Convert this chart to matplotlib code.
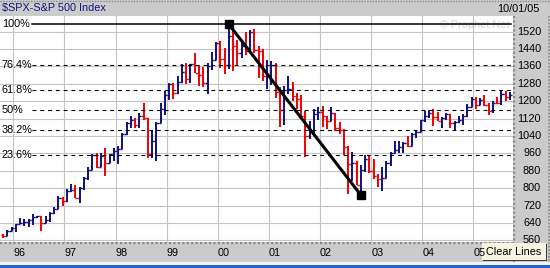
import matplotlib
matplotlib.use("Agg")
import numpy as np
import matplotlib.pyplot as plt
from matplotlib.patches import Rectangle

plt.rcParams['font.family'] = ['Liberation Sans', 'DejaVu Sans']

"""Data: monthly S&P 500 bars, Oct 1995 - Sep 2005"""

first_offset = -3   # Oct 1995, counted in months from Jan 1996

opens = [584.41, 581.50, 605.37,
         615.93, 636.02, 640.43, 645.50, 654.17, 669.12, 670.63, 639.95, 651.99, 687.31, 705.27, 757.02,
         740.74, 786.16, 790.82, 757.12, 801.34, 848.28, 885.14, 954.29, 899.47, 947.28, 914.62, 955.40,
         970.43, 980.28, 1049.34, 1101.75, 1111.75, 1090.82, 1133.84, 1120.67, 957.28, 1017.01, 1098.67, 1163.63,
         1229.23, 1279.64, 1238.33, 1286.37, 1335.18, 1301.84, 1372.71, 1328.72, 1320.41, 1282.71, 1362.93, 1388.91,
         1469.25, 1394.46, 1366.42, 1498.58, 1452.43, 1420.60, 1454.60, 1430.83, 1517.68, 1436.51, 1429.40, 1314.95,
         1320.28, 1366.01, 1239.94, 1160.33, 1249.46, 1255.82, 1224.42, 1211.23, 1133.58, 1040.94, 1059.78, 1139.45,
         1148.08, 1130.20, 1106.73, 1147.39, 1076.92, 1067.14, 989.82, 911.62, 916.07, 815.28, 885.76, 936.31,
         879.82, 855.70, 841.15, 848.18, 916.92, 963.59, 974.50, 990.31, 1008.01, 995.97, 1050.71, 1058.20,
         1111.92, 1131.13, 1144.94, 1126.21, 1107.30, 1120.68, 1140.84, 1101.72, 1104.24, 1114.58, 1130.20, 1173.82,
         1211.92, 1181.27, 1203.60, 1180.59, 1156.85, 1191.50, 1191.33, 1234.18, 1220.33]
highs = [587.75, 608.69, 622.88,
         636.18, 664.23, 656.97, 656.68, 681.10, 673.31, 672.61, 670.68, 690.88, 714.10, 762.12, 761.75,
         794.67, 817.68, 814.90, 804.13, 851.87, 898.70, 957.73, 961.62, 960.46, 983.12, 959.13, 986.25,
         992.65, 1051.66, 1105.65, 1130.52, 1123.85, 1145.15, 1190.58, 1121.01, 1066.11, 1103.78, 1192.97, 1244.93,
         1283.49, 1283.75, 1316.55, 1371.56, 1375.98, 1372.93, 1420.33, 1361.23, 1357.74, 1373.17, 1427.39, 1473.53,
         1478.00, 1444.55, 1552.87, 1527.19, 1481.51, 1474.63, 1517.32, 1525.21, 1530.09, 1454.82, 1438.46, 1389.06,
         1383.37, 1376.38, 1263.47, 1269.30, 1315.93, 1286.62, 1239.78, 1226.27, 1155.40, 1110.61, 1163.38, 1173.62,
         1176.55, 1130.20, 1173.03, 1147.84, 1106.59, 1070.74, 994.46, 965.00, 924.02, 907.44, 951.57, 954.28,
         935.05, 864.64, 895.90, 924.24, 965.38, 1015.33, 1015.41, 1011.01, 1040.29, 1053.79, 1063.65, 1112.56,
         1155.38, 1158.98, 1163.23, 1150.57, 1127.74, 1146.34, 1140.84, 1108.60, 1131.54, 1142.05, 1188.46, 1217.33,
         1217.80, 1212.44, 1229.11, 1191.88, 1199.56, 1219.59, 1245.15, 1245.86, 1243.13]
lows = [572.68, 580.35, 605.05,
        597.29, 633.71, 627.63, 624.14, 630.07, 662.10, 605.88, 639.49, 643.97, 684.00, 703.77, 716.69,
        737.01, 783.32, 756.13, 733.54, 793.21, 836.36, 882.11, 893.38, 898.40, 855.27, 914.96, 926.42,
        912.83, 980.28, 1046.41, 1076.70, 1074.67, 1074.62, 1114.30, 939.98, 939.71, 923.32, 1098.67, 1136.89,
        1205.46, 1211.89, 1234.27, 1282.56, 1277.31, 1281.44, 1328.72, 1268.37, 1263.47, 1233.70, 1341.22, 1387.38,
        1350.14, 1325.07, 1346.62, 1339.40, 1361.09, 1398.10, 1413.89, 1421.64, 1419.44, 1305.79, 1294.90, 1254.07,
        1274.62, 1215.44, 1081.19, 1091.99, 1232.00, 1203.03, 1165.54, 1124.87, 944.75, 1026.76, 1054.31, 1114.53,
        1081.66, 1074.36, 1106.73, 1063.46, 1048.96, 952.92, 775.68, 833.44, 815.28, 768.63, 872.57, 871.84,
        840.34, 806.29, 788.90, 847.85, 902.83, 963.59, 962.10, 960.84, 990.36, 995.97, 1031.20, 1058.20,
        1105.08, 1124.44, 1087.16, 1107.23, 1076.32, 1113.32, 1078.78, 1060.72, 1101.29, 1090.19, 1127.60, 1173.76,
        1163.75, 1180.95, 1176.92, 1136.15, 1146.18, 1188.30, 1183.55, 1201.07, 1205.35]
closes = [581.50, 605.37, 615.93,
          636.02, 640.43, 645.50, 654.17, 669.12, 670.63, 639.95, 651.99, 687.31, 705.27, 757.02, 740.74,
          786.16, 790.82, 757.12, 801.34, 848.28, 885.14, 954.29, 899.47, 947.28, 914.62, 955.40, 970.43,
          980.28, 1049.34, 1101.75, 1111.75, 1090.82, 1133.84, 1120.67, 957.28, 1017.01, 1098.67, 1163.63, 1229.23,
          1279.64, 1238.33, 1286.37, 1335.18, 1301.84, 1372.71, 1328.72, 1320.41, 1282.71, 1362.93, 1388.91, 1469.25,
          1394.46, 1366.42, 1498.58, 1452.43, 1420.60, 1454.60, 1430.83, 1517.68, 1436.51, 1429.40, 1314.95, 1320.28,
          1366.01, 1239.94, 1160.33, 1249.46, 1255.82, 1224.42, 1211.23, 1133.58, 1040.94, 1059.78, 1139.45, 1148.08,
          1130.20, 1106.73, 1147.39, 1076.92, 1067.14, 989.82, 911.62, 916.07, 815.28, 885.76, 936.31, 879.82,
          855.70, 841.15, 848.18, 916.92, 963.59, 974.50, 990.31, 1008.01, 995.97, 1050.71, 1058.20, 1111.92,
          1131.13, 1144.94, 1126.21, 1107.30, 1120.68, 1140.84, 1101.72, 1104.24, 1114.58, 1130.20, 1173.82, 1211.92,
          1181.27, 1203.60, 1180.59, 1156.85, 1191.50, 1191.33, 1234.18, 1220.33, 1228.81]

year_labels = ['96', '97', '98', '99', '00', '01', '02', '03', '04', '05']
price_ticks = [560, 640, 720, 800, 880, 960, 1040, 1120, 1200, 1280, 1360, 1440, 1520]
fib_ratios = [1.0, 0.764, 0.618, 0.5, 0.382, 0.236]
fib_labels = ['100%', '76.4%', '61.8%', '50%', '38.2%', '23.6%']
title = r'\$SPX-S&P 500 Index'
date_label = '10/01/05'

NAVY = '#101078'
RED = '#f00000'
GRAY = '#cbcbcb'
FS = 7.8

"""Figure and frame"""

W, H = 550, 268
fig = plt.figure(figsize=(W / 100, H / 100), dpi=100)
fig.patch.set_facecolor(GRAY)

bg = fig.add_axes([0, 0, 1, 1])
bg.set_xlim(0, W)
bg.set_ylim(H, 0)
bg.axis('off')

# bottom white + blue stripe
bg.add_patch(Rectangle((0, 262), W, 3, color='#f4f4f4', lw=0))
bg.add_patch(Rectangle((0, 264.5), W, 4, color='#1f62d6', lw=0))
# dotted borders
bg.plot([0, W], [0.7, 0.7], color='#8a8a8a', lw=1, ls=(0, (1, 1)))
bg.plot([514, 514], [16, 262], color='#8a8a8a', lw=1.6, ls=(0, (1, 1)))
bg.plot([0, 514], [243, 243], color='#8a8a8a', lw=1.6, ls=(0, (1, 1)))
bg.plot([548.5, 548.5], [16, 262], color='#8a8a8a', lw=1.2, ls=(0, (1, 1)))

# header texts
bg.text(2, 8.5, title, color='#14147a', fontsize=FS, ha='left', va='center')
bg.text(540, 8.5, date_label, color='black', fontsize=FS, ha='right', va='center')

# Clear Lines button
bg.add_patch(Rectangle((483, 244), 64, 17, facecolor='#3c3c3c', lw=0, zorder=5))
bg.add_patch(Rectangle((482, 243), 64, 17, facecolor='#f8f4e2', lw=0, zorder=6))
bg.text(514, 252, 'Clear Lines', fontsize=FS, ha='center', va='center', zorder=7)

"""Price axes"""

left_px, right_px, top_px, bot_px = 0, 513, 16, 242
ax = fig.add_axes([left_px / W, (H - bot_px) / H, (right_px - left_px) / W, (bot_px - top_px) / H])
ax.set_facecolor('white')
ax.set_xlim(-3.71, 116.71)
ax.set_ylim(553.1, 1591.2)
for s in ax.spines.values():
    s.set_visible(False)
ax.set_xticks([])
ax.set_yticks([])

# grid
year_pos = [12 * i - 0.59 for i in range(len(year_labels))]
for y in price_ticks:
    ax.axhline(y, color='#c4c4c4', lw=0.8, zorder=1)
for x in year_pos:
    ax.axvline(x, color='#c4c4c4', lw=0.8, zorder=1)

# OHLC bars
o = np.array(opens)
h = np.array(highs)
l = np.array(lows)
c = np.array(closes)
k = np.arange(len(c)) + first_offset
cols = [NAVY if cc >= oo else RED for oo, cc in zip(o, c)]
ax.vlines(k, l, h, colors=cols, lw=1.4, zorder=3)
ax.hlines(o, k - 0.5, k, colors=cols, lw=1.0, zorder=3)
ax.hlines(c, k, k + 0.5, colors=cols, lw=1.0, zorder=3)

# Fibonacci retracement: from the top down to the lowest low after it
hi_i = int(np.argmax(h))
lo_i = hi_i + int(np.argmin(l[hi_i:]))
hi, lo = h[hi_i], l[lo_i]

ax.text(510 / 513, 1549, '© Prophet.Net', color='#d6d6d6', fontsize=FS,
        ha='right', va='center', transform=ax.get_yaxis_transform(), zorder=2)
for r, lab in zip(fib_ratios, fib_labels):
    lvl = lo + r * (hi - lo)
    if r == 1.0:
        ax.axhline(lvl, xmin=32 / 513, xmax=511 / 513, color='black', lw=1.1, zorder=4)
    else:
        ax.axhline(lvl, xmin=32 / 513, xmax=1, color='black', lw=0.8,
                   dashes=(3.5, 3.5), zorder=4)
    ax.text(2 / 513, lvl, lab, fontsize=FS, ha='left', va='center',
            transform=ax.get_yaxis_transform(), zorder=4)

ax.plot([k[hi_i], k[lo_i]], [hi, lo], color='black', lw=2.2, zorder=5)
ax.plot([k[hi_i], k[lo_i]], [hi, lo], 's', color='black', ms=6, zorder=6)

# right price labels
for y in price_ticks:
    ax.text(541 / 513, y, str(y), fontsize=FS, ha='right', va='center',
            transform=ax.get_yaxis_transform(), clip_on=False)

# year labels
for x, lab in zip(year_pos, year_labels):
    ax.text(x, -11.5 / 226, lab, fontsize=FS, ha='left', va='center',
            transform=ax.get_xaxis_transform(), clip_on=False)

fig.savefig('out.png', dpi=100, facecolor=fig.get_facecolor())
